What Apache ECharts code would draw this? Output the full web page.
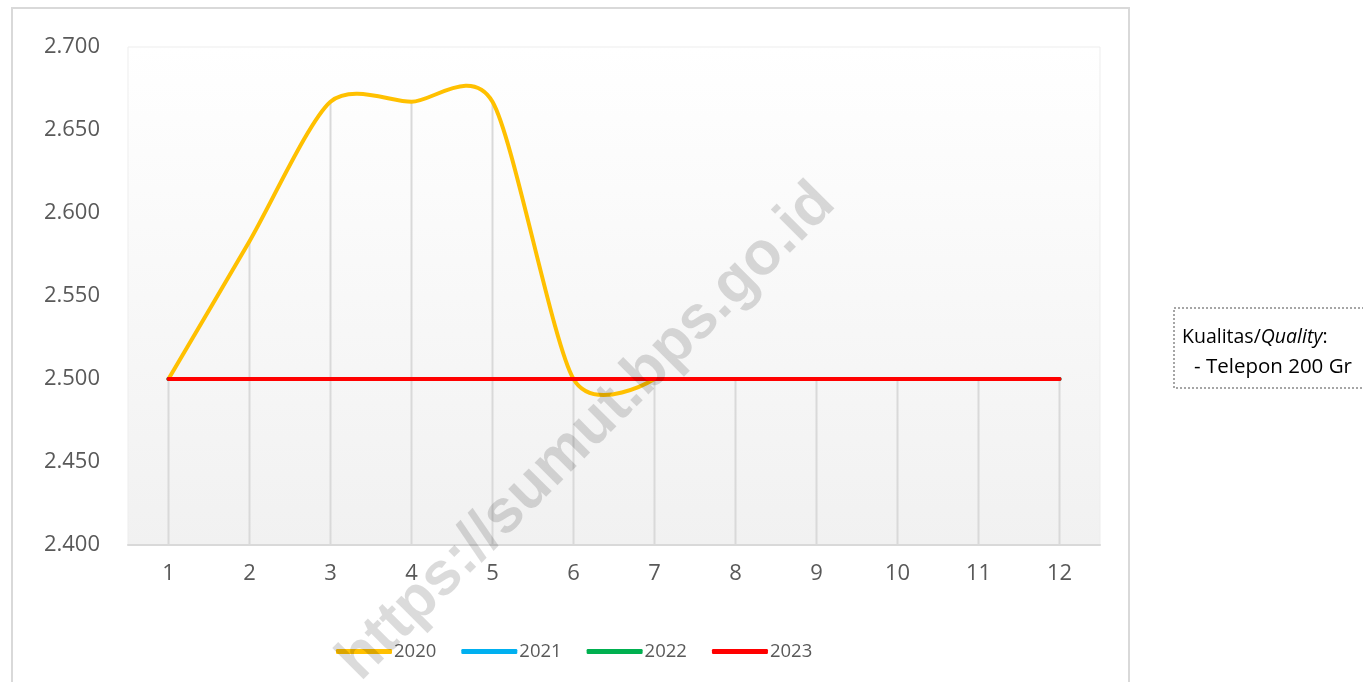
<!DOCTYPE html>
<html>
<head>
<meta charset="utf-8">
<title>Harga Telepon 200 Gr</title>
<script src="https://cdn.jsdelivr.net/npm/echarts@6/dist/echarts.min.js"></script>
<style>
  html, body { margin: 0; padding: 0; background: #ffffff; }
  #chart { width: 1363px; height: 682px; }
</style>
</head>
<body>
<div id="chart"></div>
<script>
// Months 1..12
const months = ['1', '2', '3', '4', '5', '6', '7', '8', '9', '10', '11', '12'];

// Monthly prices per year (Rp)
const y2020 = [2500, 2583, 2667, 2667, 2667, 2500, 2500, null, null, null, null, null];
const y2021 = [2500, 2500, 2500, 2500, 2500, 2500, 2500, 2500, 2500, 2500, 2500, 2500];
const y2022 = [2500, 2500, 2500, 2500, 2500, 2500, 2500, 2500, 2500, 2500, 2500, 2500];
const y2023 = [2500, 2500, 2500, 2500, 2500, 2500, 2500, 2500, 2500, 2500, 2500, 2500];

const yearNames = ['2020', '2021', '2022', '2023'];
const yearColors = ['#FFC000', '#00B0F0', '#00B050', '#FF0000'];

const yMin = 2400, yMax = 2700, yStep = 50;

const FONT = '"Open Sans", "Noto Sans", sans-serif';
const TENSION = 0.13;   // control arm = tension * chord between neighbours

// Indonesian thousands separator: 2500 -> "2.500"
function fmt(v) {
  const s = String(Math.round(v));
  return s.replace(/\B(?=(\d{3})+(?!\d))/g, '.');
}

// Drop lines reach the highest value of any year in each month
const allYears = [y2020, y2021, y2022, y2023];
const dropData = months.map((m, i) => {
  const vals = allYears.map(a => a[i]).filter(v => v != null);
  return [i, Math.max.apply(null, vals)];
});

// Cardinal-spline style path through pixel points (allowed to overshoot)
function smoothPath(pts) {
  const n = pts.length;
  if (n < 2) return '';
  const arm = pts.map((c, i) => {
    if (i === 0 || i === n - 1) return [0, 0];
    const p = pts[i - 1], q = pts[i + 1];
    return [(q[0] - p[0]) * TENSION, (q[1] - p[1]) * TENSION];
  });
  let d = 'M' + pts[0][0] + ' ' + pts[0][1];
  for (let i = 0; i < n - 1; i++) {
    const a = pts[i], b = pts[i + 1];
    d += ' C' + (a[0] + arm[i][0]) + ' ' + (a[1] + arm[i][1]) + ' ' +
         (b[0] - arm[i + 1][0]) + ' ' + (b[1] - arm[i + 1][1]) + ' ' +
         b[0] + ' ' + b[1];
  }
  return d;
}

function curveSeries(name, values, color, z) {
  return {
    name: name,
    type: 'custom',
    z: z,
    silent: true,
    itemStyle: { color: color },
    data: values.map((v, i) => [i, v]),
    renderItem: function (params, api) {
      if (params.dataIndex !== 0) return null;
      // split into runs of present values
      const runs = [];
      let cur = [];
      values.forEach((v, i) => {
        if (v == null) { if (cur.length) runs.push(cur); cur = []; }
        else cur.push(api.coord([i, v]));
      });
      if (cur.length) runs.push(cur);
      return {
        type: 'group',
        children: runs.map(pts => ({
          type: 'path',
          shape: { pathData: smoothPath(pts) },
          style: { fill: 'none', stroke: color, lineWidth: 4, lineCap: 'round', lineJoin: 'round' }
        }))
      };
    }
  };
}

const chart = echarts.init(document.getElementById('chart'));

chart.setOption({
  animation: false,
  backgroundColor: '#ffffff',
  textStyle: { fontFamily: FONT },
  grid: {
    left: 128, right: 263, top: 47, bottom: 137,
    show: true,
    borderColor: '#ededed',
    borderWidth: 1,
    backgroundColor: new echarts.graphic.LinearGradient(0, 0, 0, 1, [
      { offset: 0, color: '#ffffff' },
      { offset: 1, color: '#f1f1f1' }
    ])
  },
  legend: {
    data: yearNames,
    left: 331,
    top: 637,
    icon: 'roundRect',
    itemWidth: 56,
    itemHeight: 5,
    itemGap: 25,
    textStyle: { color: '#595959', fontSize: 18.5, fontFamily: FONT, padding: [0, 0, 0, -3] }
  },
  xAxis: {
    type: 'category',
    data: months,
    boundaryGap: true,
    axisLine: { lineStyle: { color: '#d9d9d9', width: 2 } },
    axisTick: { show: false },
    axisLabel: { color: '#595959', fontSize: 22, margin: 18, fontFamily: FONT },
    splitLine: { show: false }
  },
  yAxis: {
    type: 'value',
    min: yMin,
    max: yMax,
    interval: yStep,
    axisLine: { show: false },
    axisTick: { show: false },
    splitLine: { show: false },
    axisLabel: { color: '#595959', fontSize: 22, margin: 28, fontFamily: FONT, formatter: fmt }
  },
  series: [
    {
      name: 'drop',
      type: 'custom',
      z: 1,
      silent: true,
      data: dropData,
      renderItem: function (params, api) {
        const top = api.coord([api.value(0), api.value(1)]);
        const bottom = api.coord([api.value(0), yMin]);
        return {
          type: 'line',
          shape: { x1: top[0], y1: top[1], x2: bottom[0], y2: bottom[1] },
          style: { stroke: '#d9d9d9', lineWidth: 2 }
        };
      }
    },
    curveSeries('2020', y2020, yearColors[0], 3),
    curveSeries('2021', y2021, yearColors[1], 4),
    curveSeries('2022', y2022, yearColors[2], 5),
    curveSeries('2023', y2023, yearColors[3], 6)
  ],
  graphic: [
    {
      type: 'rect',
      shape: { x: 12, y: 8, width: 1117, height: 700 },
      style: { fill: 'none', stroke: '#d9d9d9', lineWidth: 2 },
      silent: true,
      z: 0
    },
    {
      type: 'rect',
      shape: { x: 1174, y: 308, width: 200, height: 80 },
      style: { fill: '#ffffff', stroke: '#a6a6a6', lineWidth: 2, lineDash: [2, 2] },
      z: 5
    },
    {
      type: 'text',
      x: 1182, y: 337,
      z: 6,
      style: {
        text: '{n|Kualitas/}{i|Quality}{n|:}',
        verticalAlign: 'middle',
        rich: {
          n: { fontSize: 19.5, fill: '#000000', fontFamily: FONT },
          i: { fontSize: 19.5, fill: '#000000', fontFamily: FONT, fontStyle: 'italic' }
        }
      }
    },
    {
      type: 'text',
      x: 1194, y: 367,
      z: 6,
      style: {
        text: '- Telepon 200 Gr',
        verticalAlign: 'middle',
        fontSize: 20.5,
        fill: '#000000',
        fontFamily: FONT
      }
    },
    {
      type: 'text',
      x: 587, y: 432,
      rotation: Math.PI / 4,
      z: 100,
      silent: true,
      style: {
        text: 'https://sumut.bps.go.id',
        align: 'center',
        verticalAlign: 'middle',
        fontSize: 61,
        fontWeight: 'bold',
        fontFamily: '"Liberation Sans", Arial, sans-serif',
        fill: 'rgba(0,0,0,0.14)'
      }
    }
  ]
});
</script>
</body>
</html>
